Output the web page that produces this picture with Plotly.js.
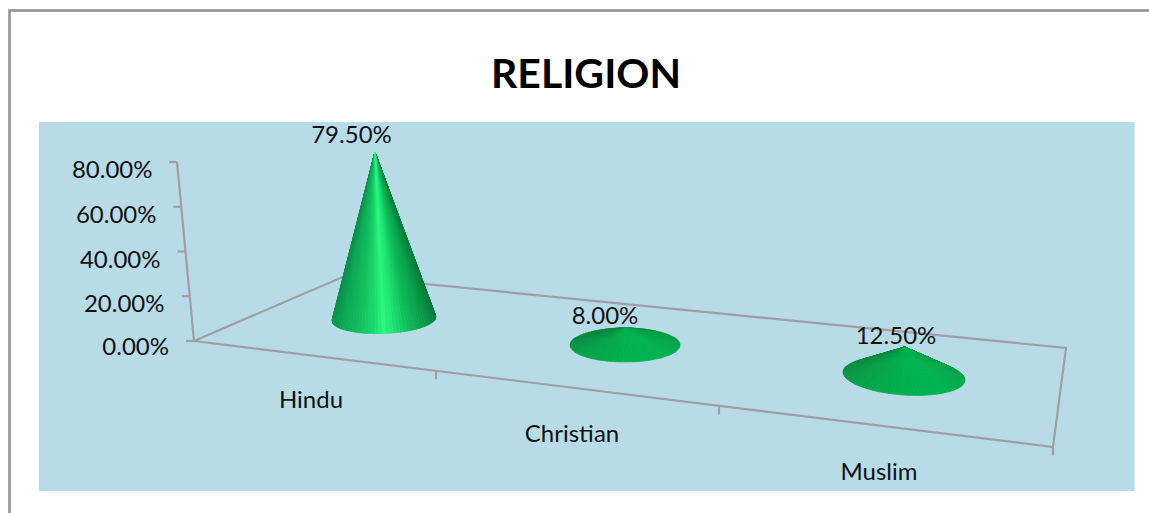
<!DOCTYPE html>
<html>
<head>
<meta charset="utf-8">
<script src="https://cdn.plot.ly/plotly-3.0.1.min.js"></script>
<style>html,body{margin:0;padding:0;background:#fff;overflow:hidden}#chart{width:1149px;height:513px}</style>
</head>
<body>
<div id="chart"></div>
<script>
// ---- data ----
const categories = ['Hindu', 'Christian', 'Muslim'];
const values = [79.5, 8.0, 12.5];
const axisTicks = [0, 20, 40, 60, 80];
const chartTitle = 'RELIGION';

// ---- oblique projection of the chart box onto the page ----
const FONT = 'Lato, Carlito, "Open Sans", sans-serif';
const LINE = '#a09ea2';
const origin = [194, 341], axisTop = [177, 162];
const backLeft = [345, 276], backRight = [1066, 348], frontRight = [1053, 447];
const catTickX = [436, 719, 1053];
const catLabelPos = [[311, 402], [572, 436], [879, 474]];
const dataLabelPos = [[351.5, 137], [605, 318], [896, 338]];
const axisLabelRight = [169, 164.5, 160.5, 156.5, 152.5];
const axisLabelY = [349, 306, 262, 217, 172];
const coneBase = [
  {cx: 384, cy: 319, rx: 52, ry: 14.5, tilt: -2, pxPerUnit: 2.1,  lean: -0.054, tall: true},
  {cx: 625, cy: 345, rx: 55, ry: 17,   tilt: 0,  pxPerUnit: 2.13, lean: 0,      tall: false},
  {cx: 904, cy: 376, rx: 61, ry: 19,   tilt: 4,  pxPerUnit: 2.32, lean: 0.03,   tall: false}
];

function lerp(a, b, t) { return a + (b - a) * t; }
function hex(c) { return [1, 3, 5].map(i => parseInt(c.substr(i, 2), 16)); }
function mixStops(stops, u) {
  for (let i = 1; i < stops.length; i++) {
    if (u <= stops[i][0]) {
      const t = (u - stops[i - 1][0]) / (stops[i][0] - stops[i - 1][0]);
      const a = hex(stops[i - 1][1]), b = hex(stops[i][1]);
      return 'rgb(' + a.map((v, k) => Math.round(lerp(v, b[k], t))).join(',') + ')';
    }
  }
  return stops[stops.length - 1][1];
}
const tallStops = [[-1, '#07924a'], [-0.8, '#0ea855'], [-0.45, '#12c05e'], [-0.2, '#1ad86c'], [0.0, '#2af582'],
                   [0.2, '#1ddf72'], [0.45, '#10bd5a'], [0.75, '#0a9f4b'], [1, '#067c3b']];
const flatStops = [[0, '#0a853d'], [0.45, '#079a44'], [1, '#00b34f']];

const traces = [];
function line(pts, color, width) {
  traces.push({x: pts.map(p => p[0]), y: pts.map(p => p[1]), mode: 'lines', type: 'scatter',
    line: {color: color || LINE, width: width || 2.2}, hoverinfo: 'skip', showlegend: false});
}
function text(x, y, s, size, anchor, color) {
  traces.push({x: [x], y: [y], text: [s], mode: 'text', type: 'scatter', textposition: anchor,
    textfont: {family: FONT, size: size, color: color || '#111111'}, hoverinfo: 'skip', showlegend: false, cliponaxis: false});
}

// box floor and value axis
line([origin, backLeft, backRight, frontRight, origin]);
line([origin, axisTop]);
axisTicks.forEach(v => {
  const t = v / 80;
  const p = [lerp(origin[0], axisTop[0], t), lerp(origin[1], axisTop[1], t)];
  line([[p[0] - 8, p[1]], p]);
});
catTickX.forEach(x => {
  const y = lerp(origin[1], frontRight[1], (x - origin[0]) / (frontRight[0] - origin[0]));
  line([[x, y], [x, y + 8.5]]);
});

// cones: wedges from the apex to the base ellipse, drawn back to front
const N = 90;
values.forEach((v, i) => {
  const b = coneBase[i];
  const apex = [b.cx + v * b.pxPerUnit * b.lean, b.cy - v * b.pxPerUnit];
  const wedges = [];
  for (let k = 0; k < N; k++) {
    const t0 = 2 * Math.PI * k / N, t1 = 2 * Math.PI * (k + 1) / N, tm = (t0 + t1) / 2;
    wedges.push({t0, t1, tm});
  }
  wedges.sort((a, c) => Math.sin(a.tm) - Math.sin(c.tm));
  const pt = t => [b.cx + b.rx * Math.cos(t), b.cy + b.ry * Math.sin(t) + b.tilt * Math.cos(t)];
  wedges.forEach(w => {
    const c = b.tall ? mixStops(tallStops, Math.cos(w.tm))
      : mixStops(flatStops, 0.5 + 0.5 * (0.45 * Math.cos(w.tm) + 0.85 * Math.sin(w.tm)));
    const p0 = pt(w.t0), p1 = pt(w.t1);
    traces.push({x: [apex[0], p0[0], p1[0], apex[0]], y: [apex[1], p0[1], p1[1], apex[1]],
      mode: 'lines', type: 'scatter', fill: 'toself', fillcolor: c, line: {color: c, width: 0.7},
      hoverinfo: 'skip', showlegend: false});
  });
});

// text
axisTicks.forEach((v, i) => text(axisLabelRight[i], axisLabelY[i], v.toFixed(2) + '%', 24, 'middle left'));
categories.forEach((c, i) => text(catLabelPos[i][0], catLabelPos[i][1], c, 24, 'middle center'));
values.forEach((v, i) => text(dataLabelPos[i][0], dataLabelPos[i][1], v.toFixed(2) + '%', 24, 'middle center'));

const layout = {
  width: 1149, height: 513,
  margin: {l: 0, r: 0, t: 0, b: 0},
  paper_bgcolor: '#ffffff', plot_bgcolor: '#ffffff',
  showlegend: false,
  title: {text: '<b>' + chartTitle + '</b>', x: 586 / 1149, xanchor: 'center', y: 1 - 74 / 513, yanchor: 'middle',
          font: {family: FONT, size: 41, color: '#000000'}},
  xaxis: {range: [0, 1149], visible: false, fixedrange: true},
  yaxis: {range: [513, 0], visible: false, fixedrange: true},
  shapes: [
    {type: 'rect', layer: 'below', x0: 39, x1: 1134.5, y0: 122, y1: 491, fillcolor: '#b7dce8', line: {width: 0}},
    {type: 'path', layer: 'below', path: 'M 9.5 513 L 9.5 10.5 L 1149 10.5', line: {color: '#8f8f8f', width: 2.5}}
  ]
};
Plotly.newPlot('chart', traces, layout, {displayModeBar: false, responsive: false});
</script>
</body>
</html>
